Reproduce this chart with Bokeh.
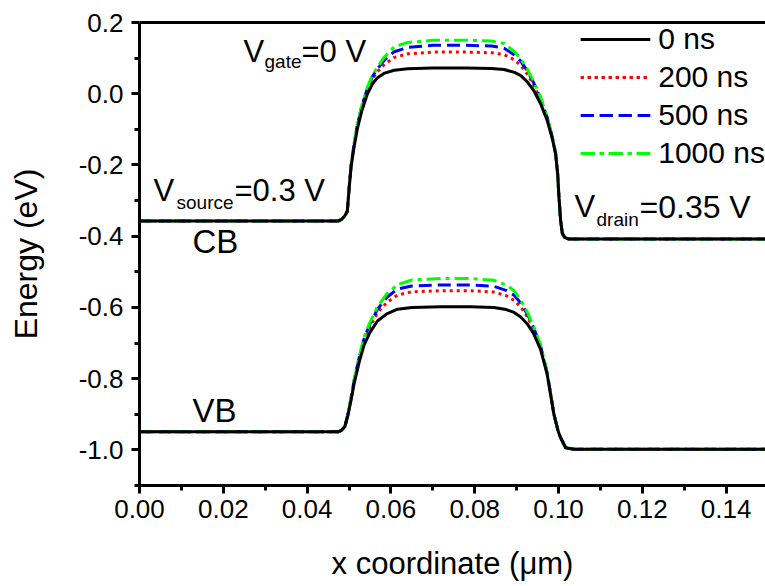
from bokeh.plotting import figure
from bokeh.models import (Range1d, FixedTicker, PrintfTickFormatter, LinearAxis,
                          Legend, LegendItem, Label)
from bokeh.embed import file_html
from bokeh.resources import INLINE

# ---------------- data ----------------
series_labels = ["0 ns", "200 ns", "500 ns", "1000 ns"]

x_cb = [0.0, 0.0475, 0.0483, 0.0490, 0.0496, 0.0500, 0.0505, 0.0512, 0.0520, 0.0530,
        0.0544, 0.0556, 0.0568, 0.0585, 0.0608, 0.0640, 0.0700, 0.0780, 0.0840, 0.0870,
        0.0895, 0.0910, 0.0925, 0.0941, 0.0958, 0.0973, 0.0985, 0.0993, 0.0998, 0.1001,
        0.1005, 0.1009, 0.1015, 0.1025, 0.1500]
cb_0ns = [-0.357, -0.357, -0.352, -0.343, -0.330, -0.270, -0.205, -0.150, -0.098, -0.050,
          0.000, 0.028, 0.045, 0.058, 0.066, 0.070, 0.072, 0.072, 0.071, 0.068,
          0.060, 0.051, 0.034, 0.009, -0.030, -0.075, -0.125, -0.168, -0.225, -0.290,
          -0.355, -0.392, -0.404, -0.408, -0.408]
cb_200ns = [-0.357, -0.357, -0.352, -0.343, -0.330, -0.268, -0.202, -0.145, -0.091, -0.041,
            0.011, 0.042, 0.062, 0.083, 0.102, 0.112, 0.117, 0.117, 0.115, 0.110,
            0.095, 0.079, 0.056, 0.024, -0.020, -0.069, -0.122, -0.167, -0.225, -0.290,
            -0.355, -0.392, -0.404, -0.408, -0.408]
cb_500ns = [-0.357, -0.357, -0.352, -0.343, -0.330, -0.267, -0.200, -0.143, -0.088, -0.037,
            0.016, 0.048, 0.070, 0.095, 0.118, 0.130, 0.136, 0.136, 0.134, 0.128,
            0.109, 0.091, 0.065, 0.030, -0.016, -0.067, -0.121, -0.166, -0.225, -0.290,
            -0.355, -0.392, -0.404, -0.408, -0.408]
cb_1000ns = [-0.357, -0.357, -0.352, -0.343, -0.330, -0.266, -0.199, -0.141, -0.086, -0.035,
             0.019, 0.052, 0.075, 0.104, 0.132, 0.144, 0.150, 0.150, 0.148, 0.141,
             0.118, 0.097, 0.070, 0.034, -0.013, -0.065, -0.120, -0.166, -0.225, -0.290,
             -0.355, -0.392, -0.404, -0.408, -0.408]

x_vb = [0.0, 0.0475, 0.0481, 0.0490, 0.0497, 0.0505, 0.0512, 0.0524, 0.0536, 0.0550,
        0.0568, 0.0590, 0.0616, 0.0650, 0.0720, 0.0790, 0.0846, 0.0875, 0.0894, 0.0910,
        0.0926, 0.0940, 0.0957, 0.0973, 0.0989, 0.0999, 0.1005, 0.1017, 0.1037, 0.1500]
vb_0ns = [-0.949, -0.949, -0.946, -0.935, -0.905, -0.860, -0.815, -0.755, -0.705, -0.670,
          -0.638, -0.618, -0.605, -0.600, -0.598, -0.598, -0.600, -0.606, -0.614, -0.627,
          -0.647, -0.672, -0.717, -0.788, -0.900, -0.947, -0.966, -0.994, -0.998, -0.998]
vb_200ns = [-0.949, -0.949, -0.946, -0.935, -0.903, -0.856, -0.809, -0.746, -0.693, -0.654,
            -0.615, -0.586, -0.565, -0.556, -0.553, -0.553, -0.557, -0.567, -0.580, -0.599,
            -0.627, -0.660, -0.710, -0.785, -0.899, -0.947, -0.966, -0.994, -0.998, -0.998]
vb_500ns = [-0.949, -0.949, -0.946, -0.935, -0.902, -0.854, -0.806, -0.742, -0.688, -0.647,
            -0.605, -0.572, -0.548, -0.540, -0.537, -0.537, -0.541, -0.552, -0.566, -0.588,
            -0.619, -0.655, -0.707, -0.784, -0.899, -0.947, -0.966, -0.994, -0.998, -0.998]
vb_1000ns = [-0.949, -0.949, -0.946, -0.935, -0.901, -0.853, -0.804, -0.739, -0.684, -0.642,
             -0.598, -0.562, -0.536, -0.523, -0.519, -0.519, -0.524, -0.537, -0.553, -0.580,
             -0.614, -0.652, -0.705, -0.783, -0.899, -0.947, -0.966, -0.994, -0.998, -0.998]

x_ticks = [0.00, 0.02, 0.04, 0.06, 0.08, 0.10, 0.12, 0.14]
y_ticks = [0.2, 0.0, -0.2, -0.4, -0.6, -0.8, -1.0]
x_title = "x coordinate (\u03bcm)"
y_title = "Energy (eV)"

# ---------------- styling ----------------
FONT = "Liberation Sans"
colors = ["black", "#ff0000", "#0000ff", "#00ff00"]
dashes = ["solid", "3 4", "13 6", "14 5 4 5"]

X0, X1 = 0.0, 0.1494
Y0, Y1 = -1.1, 0.2
W, H = 765, 586
ML, MR, MT, MB = 139, 0, 22, 101

p = figure(width=W, height=H, output_backend="svg", toolbar_location=None,
           x_range=Range1d(X0, X1), y_range=Range1d(Y0, Y1),
           min_border_left=ML, min_border_right=MR, min_border_top=MT,
           min_border_bottom=MB)
p.outline_line_color = None
p.grid.visible = False
p.background_fill_color = "white"
p.border_fill_color = "white"

for ax in (p.xaxis[0], p.yaxis[0]):
    ax.axis_line_width = 3
    ax.major_tick_line_width = 3
    ax.minor_tick_line_width = 3
    ax.major_tick_in = 0
    ax.minor_tick_in = 0
    ax.major_tick_out = 8
    ax.minor_tick_out = 5
    ax.major_label_text_font = FONT
    ax.major_label_text_font_size = "26px"
    ax.major_label_text_color = "black"
    ax.axis_label_text_font = FONT
    ax.axis_label_text_font_style = "normal"
    ax.axis_label_text_color = "black"

p.xaxis.ticker = FixedTicker(ticks=x_ticks, minor_ticks=[0.01, 0.03, 0.05, 0.07, 0.09, 0.11, 0.13])
p.xaxis.formatter = PrintfTickFormatter(format="%.2f")
p.xaxis.major_label_standoff = 6

p.yaxis.ticker = FixedTicker(ticks=y_ticks, minor_ticks=[0.1, -0.1, -0.3, -0.5, -0.7, -0.9, -1.1])
p.yaxis.formatter = PrintfTickFormatter(format="%.1f")
p.yaxis.axis_label = y_title
p.yaxis.axis_label_text_font_size = "32px"
p.yaxis.major_label_standoff = 8
p.yaxis.axis_label_standoff = 32

# second bottom axis that only carries the x title (below the tick labels)
title_axis = LinearAxis(ticker=FixedTicker(ticks=[]), major_tick_out=0, minor_tick_out=0,
                        major_tick_in=0, minor_tick_in=0,
                        major_label_text_font_size="0px", axis_line_color=None,
                        axis_label=x_title, axis_label_standoff=25,
                        axis_label_text_font=FONT, axis_label_text_font_size="31px",
                        axis_label_text_font_style="normal", axis_label_text_color="black")
p.add_layout(title_axis, "below")

top_axis = LinearAxis(ticker=FixedTicker(ticks=[]), major_tick_out=0, minor_tick_out=0,
                      major_label_text_font_size="0px", axis_line_width=3)
p.add_layout(top_axis, "above")

cb_series = [cb_0ns, cb_200ns, cb_500ns, cb_1000ns]
vb_series = [vb_0ns, vb_200ns, vb_500ns, vb_1000ns]

renderers = {}
order = [1, 2, 3, 0]  # colored first, black on top
for i in order:
    r1 = p.line(x_cb, cb_series[i], line_color=colors[i], line_width=3,
                line_dash=dashes[i], line_join="round")
    r2 = p.line(x_vb, vb_series[i], line_color=colors[i], line_width=3,
                line_dash=dashes[i], line_join="round")
    renderers[i] = [r1, r2]

legend = Legend(items=[LegendItem(label=series_labels[i], renderers=renderers[i]) for i in range(4)],
                location="top_right", glyph_width=70, glyph_height=34, label_height=34,
                spacing=4, padding=0, margin=0, label_standoff=8,
                border_line_color=None, background_fill_alpha=0,
                label_text_font=FONT, label_text_font_size="30px", label_text_color="black")
p.add_layout(legend)

# ---------------- annotations (pixel positions -> data) ----------------
FW = W - ML - MR
FH = H - MT - MB


def px2x(px):
    return X0 + (px - ML) / FW * (X1 - X0)


def py2y(py):
    return Y1 - (py - MT) / FH * (Y1 - Y0)


annots = [
    ("V", 243, 51, "31px"), ("gate", 264, 61, "19px"), ("=0 V", 301, 51, "31px"),
    ("V", 153, 190, "31px"), ("source", 176, 202, "19px"), ("=0.3 V", 234, 190, "31px"),
    ("V", 574, 206, "31px"), ("drain", 596, 219, "19px"), ("=0.35 V", 639, 206, "32px"),
    ("CB", 192, 241, "33px"), ("VB", 192, 410, "33px"),
]
for txt, px, py, fs in annots:
    p.add_layout(Label(x=px2x(px), y=py2y(py), text=txt, text_font=FONT, text_font_size=fs,
                       text_color="black", text_baseline="alphabetic", text_align="left"))

open("out.html", "w").write(file_html(p, INLINE))
